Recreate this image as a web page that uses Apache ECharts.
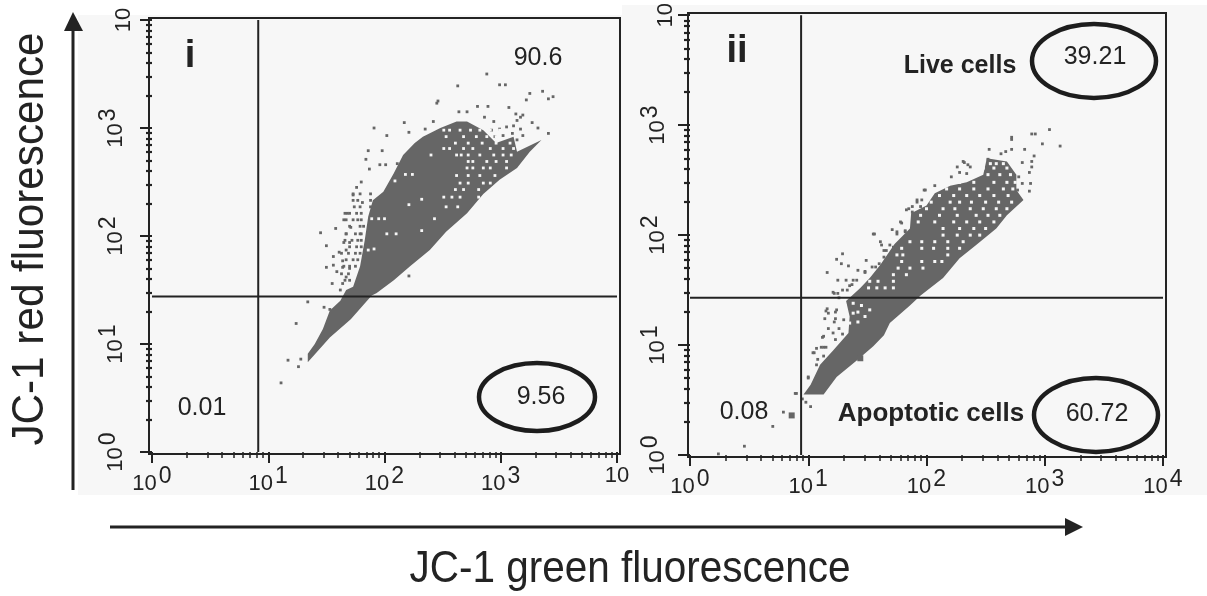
<!DOCTYPE html>
<html><head><meta charset="utf-8">
<style>html,body{margin:0;padding:0;background:#fff}#c{width:1207px;height:596px}</style>
<script src="https://cdn.jsdelivr.net/npm/echarts@6/dist/echarts.min.js"></script>
</head><body><div id="c"></div>
<script>
// All cloud data are [log10 green, log10 red].
// "Rows" are [log10 red, [log10 green, ...]] for events sharing a red level.
const decades = [0, 1, 2, 3, 4];
const minorMultiples = [2, 3, 4, 5, 6, 7, 8, 9];
const gateI = [8.2, 27.5];
const gateII = [8.7, 27];

const cloudI = [[1.34,.83],[1.53,1.06],[1.71,1.23],[1.89,1.45],[1.93,1.47],[2.08,1.59],[2.22,1.72],[2.39,1.87],[2.53,2.04],[2.71,2.21],[2.85,2.39],[2.99,2.52],[3.14,2.63],[3.25,2.78],[3.35,2.89],[3.14,2.78],[3.11,2.92],[2.96,2.86],[2.85,2.98],[2.71,3.06],[2.62,3.06],[2.48,3.00],[2.33,2.92],[2.26,2.86],[2.16,2.75],[2.08,2.58],[1.99,2.41],[1.90,2.33],[1.86,2.18],[1.83,1.96],[1.79,1.72],[1.73,1.53],[1.67,1.50],[1.62,1.40],[1.53,1.31],[1.47,1.14],[1.40,1.00],[1.34,.91]];
const dotsI = [[2.88,3.50],[2.99,3.40],[3.04,3.40],[2.63,3.39],[3.36,3.34],[3.25,3.32],[3.45,3.29],[3.41,3.27],[3.22,3.26],[2.46,3.25],[2.45,3.23],[3.07,3.19],[2.80,3.20],[2.89,3.20],[2.71,3.15],[2.64,3.15],[2.86,3.10],[3.19,3.12],[3.13,3.13],[3.14,3.07],[2.94,3.06],[3.27,3.05],[3.32,3.00],[3.41,2.95],[2.17,3.05],[1.91,3.00],[2.42,3.06],[2.35,2.99],[2.21,2.96],[2.02,2.93],[1.86,2.79],[1.98,2.79],[1.84,2.71],[1.96,2.66],[2.01,2.66],[1.87,2.62],[2.11,2.67],[1.80,2.50],[1.76,2.45],[1.73,2.38],[1.77,2.33],[1.81,2.31],[1.74,2.27],[1.68,2.21],[1.65,2.15],[1.76,2.21],[1.71,2.08],[1.45,2.03],[1.58,2.07],[1.67,2.02],[1.50,1.91],[1.65,1.94],[1.70,1.94],[1.61,1.85],[1.56,1.81],[1.67,1.87],[1.64,1.77],[1.50,1.71],[1.56,1.73],[1.64,1.71],[1.70,1.70],[1.59,1.67],[1.67,1.62],[1.55,1.56],[1.64,1.56],[1.62,1.50],[1.34,1.39],[1.48,1.34],[1.53,1.32],[1.24,1.19],[1.17,.85],[1.28,.86],[1.26,.79],[1.11,.64],[2.77,2.99],[2.83,2.96],[2.92,2.98],[2.99,2.99],[3.05,3.01],[3.11,3.02],[3.17,2.99],[3.19,2.93],[3.10,2.95],[3.02,2.93],[2.95,2.92],[3.14,2.89],[3.07,2.85],[3.17,3.10],[2.21,1.63]];
const fringeRowsI = [[2.39,[1.73,1.79,1.88]],[2.33,[1.73,1.88]],[2.27,[1.79,1.88]],[2.21,[1.66,1.70,1.80]],[2.15,[1.67,1.73,1.77,1.80]],[2.09,[1.70,1.79,1.82]],[2.02,[1.67,1.75,1.79,1.80]],[1.96,[1.66,1.72,1.77,1.80]],[1.90,[1.70,1.76,1.80]],[1.84,[1.63,1.69,1.75,1.79]],[1.78,[1.67,1.73,1.77]],[1.72,[1.65,1.70,1.75]],[1.65,[1.63,1.69]],[1.59,[1.66,1.70]]];
const gapsI = [[2.40,2.75],[2.32,2.34],[2.21,2.29],[2.09,2.51],[2.18,2.57],[2.24,2.57],[1.89,2.16],[1.95,2.16],[2.00,2.16],[2.43,2.16],[2.32,2.05],[2.02,2.02],[2.10,2.02],[1.91,1.88],[1.86,1.87]];
const gapRowsI = [[2.98,[2.51,2.56,2.65,2.74,2.82,2.91,2.99]],[2.92,[2.53,2.68,2.79,2.88,2.96,3.05]],[2.86,[2.61,2.72,2.84,2.96,3.08]],[2.81,[2.51,2.56,2.68,2.76,2.91,3.02,3.11]],[2.75,[2.62,2.66,2.72,2.82,2.94,3.02,3.09]],[2.69,[2.72,2.76,2.88,2.96,3.05]],[2.63,[2.71,2.76,2.85,2.91,3.05]],[2.56,[2.62,2.72,2.82,2.95]],[2.49,[2.65,2.72,2.85,2.91]],[2.43,[2.61,2.68,2.81]],[2.36,[2.51,2.58,2.65,2.81]],[2.27,[2.53,2.63]]];

const cloudII = [[.96,.55],[1.13,.55],[1.24,.71],[1.41,.86],[1.55,.99],[1.64,1.09],[1.69,1.20],[1.86,1.36],[1.95,1.45],[2.14,1.61],[2.28,1.79],[2.42,1.91],[2.59,2.06],[2.68,2.18],[2.82,2.32],[2.76,2.41],[2.76,2.55],[2.68,2.67],[2.51,2.70],[2.48,2.55],[2.34,2.48],[2.20,2.45],[2.07,2.38],[2.00,2.27],[1.87,2.20],[1.86,2.06],[1.73,1.92],[1.61,1.73],[1.52,1.61],[1.44,1.52],[1.32,1.40],[1.35,1.26],[1.34,1.11],[1.21,.95],[1.10,.82],[1.02,.64]];
const dotsII = [[3.04,2.96],[2.89,2.92],[2.92,2.92],[2.72,2.89],[2.72,2.87],[2.98,2.83],[3.13,2.81],[2.53,2.78],[2.72,2.78],[2.83,2.78],[2.67,2.76],[2.63,2.74],[2.91,2.72],[2.52,2.69],[2.89,2.67],[2.81,2.66],[2.89,2.62],[2.87,2.57],[2.78,2.53],[2.81,2.47],[2.88,2.47],[2.87,2.40],[2.77,2.41],[2.32,2.66],[2.26,2.62],[2.35,2.64],[2.28,2.57],[1.98,2.41],[1.92,2.32],[1.85,2.24],[1.88,2.21],[1.95,2.26],[1.78,2.12],[1.71,2.05],[1.55,2.01],[1.75,2.01],[1.82,2.04],[1.62,1.91],[1.66,1.86],[1.72,1.89],[1.29,1.83],[1.24,1.78],[1.28,1.74],[1.34,1.72],[1.42,1.68],[1.48,1.66],[1.16,1.66],[1.32,1.59],[1.35,1.54],[1.60,1.74],[1.54,1.71],[1.29,1.50],[1.22,1.47],[1.26,1.43],[1.38,1.59],[1.15,1.31],[1.23,1.30],[1.14,1.24],[1.22,1.21],[1.26,1.15],[1.29,1.10],[1.12,1.07],[1.05,.93],[1.11,.98],[1.15,.98],[1.08,.87],[1.00,.71],[.89,.56],[.95,.51],[.98,.48],[1.02,.44],[.79,.39],[.70,.26],[.46,.08],[.24,.01],
  [1.83,2.23],[1.88,2.26],[1.92,2.30],[1.99,2.41],[2.07,2.45],[2.21,2.53],[2.31,2.67],[2.37,2.62],[2.34,2.56],[1.96,2.32],[1.75,2.03],[1.79,2.11],[1.82,2.03],[1.56,2.01],[1.61,1.94],[1.64,1.86],[1.69,1.91],[1.64,1.80],[1.71,1.79],[1.49,1.77],[1.57,1.71],[1.48,1.67],
  [1.16,1.33],[1.17,1.29],[1.24,1.32],[1.23,1.24],[1.30,1.23],[1.17,1.15],[1.21,1.11],[1.13,1.08],[1.23,1.05],[1.07,.97],[1.13,.98],[1.04,.93],[1.13,.90],[1.07,.82],[1.00,.70],[.90,.56],[1.25,1.47],[1.21,1.48],[1.33,1.50],[1.37,1.55],[1.41,1.59],[1.25,1.59]];
const gapRowsII = [[2.65,[2.54,2.59,2.65]],[2.61,[2.48,2.57,2.68]],[2.55,[2.42,2.52,2.62,2.71]],[2.48,[2.28,2.40,2.57,2.68,2.75]],[2.42,[2.17,2.28,2.40,2.52,2.65,2.73]],[2.36,[2.11,2.23,2.34,2.45,2.57,2.69]],[2.30,[2.04,2.20,2.28,2.38,2.50,2.61,2.72]],[2.24,[2.00,2.14,2.24,2.37,2.48,2.59,2.68]],[2.18,[1.95,2.11,2.26,2.42,2.52,2.62]],[2.12,[1.93,2.07,2.23,2.34,2.45,2.57]],[2.06,[2.14,2.28,2.40,2.50]],[2.00,[2.14,2.26,2.37,2.45]],[1.94,[1.86,1.96,2.07,2.18,2.31]],[1.88,[1.79,1.96,2.06,2.18,2.28]],[1.82,[1.75,1.80,2.18]],[1.76,[1.79,1.96,2.07,2.13]],[1.70,[1.76,1.86,1.97]],[1.64,[1.72,1.83]],[1.58,[1.52,1.59,1.72]],[1.52,[1.51,1.58,1.65,1.72]],
  [1.38,[1.38]],[1.36,[1.31,1.45]],[1.32,[1.52]],[1.30,[1.42]],[1.29,[1.38]],[1.26,[1.48]],[1.21,[1.42]],[1.20,[1.35]]];
const clumpII = [[.86,.36],[1.44,.88]];

const expandRows = rows => rows.flatMap(r => r[1].map(x => [x, r[0]]));
const toValues = pts => pts.map(p => [Math.pow(10, p[0]), Math.pow(10, p[1])]);
const majorTicks = decades.map(d => Math.pow(10, d));
const minorTicks = [];
decades.slice(0, 4).forEach(d => minorMultiples.forEach(m => minorTicks.push(m * Math.pow(10, d))));

const FONT = '"Liberation Sans", Arial, sans-serif';
const INK = '#232323', DOT = '#666666', PANEL = '#f7f7f7';

function labelFmt(hideTop) {
  return v => {
    const e = Math.round(Math.log10(v));
    return (e === 4 && hideTop) ? '{b|10}' : '{b|10}{s|' + e + '}';
  };
}
const rich = {
  b: {fontFamily: FONT, fontSize: 22, color: INK},
  s: {fontFamily: FONT, fontSize: 23, color: INK, verticalAlign: 'bottom', padding: [0, 0, 15, 2]}
};
function axisPair(dim, grid, hideTop, margin) {
  const isX = dim === 'x';
  const base = {type: 'log', logBase: 10, min: 1, max: 10000, gridIndex: grid, position: isX ? 'bottom' : 'left',
    axisLine: {show: false, onZero: false}, splitLine: {show: false}, minorTick: {show: false}, minorSplitLine: {show: false}};
  return [
    Object.assign({}, base, {
      axisTick: {show: true, length: isX ? 11 : 12, lineStyle: {color: INK, width: 2}},
      axisLabel: {show: true, hideOverlap: false, showMinLabel: true, showMaxLabel: true, margin: margin, rotate: isX ? 0 : 90, color: INK,
        formatter: labelFmt(hideTop), rich: rich}
    }),
    Object.assign({}, base, {
      axisTick: {show: true, length: 6, customValues: minorTicks, lineStyle: {color: INK, width: isX ? 1.5 : 2.2}},
      axisLabel: {show: false}
    })
  ];
}
function cloudSeries(name, pts, xi, yi) {
  const vals = toValues(pts);
  return {
    name: name, type: 'custom', xAxisIndex: xi, yAxisIndex: yi, z: 3, silent: true, data: vals,
    renderItem: (p, api) => p.dataIndex === 0 ? {
      type: 'polygon', shape: {points: vals.map(v => api.coord(v))}, style: {fill: DOT}
    } : null
  };
}
function dotSeries(name, pts, xi, yi, color, size, z) {
  return {name: name, type: 'scatter', xAxisIndex: xi, yAxisIndex: yi, data: toValues(pts), symbol: 'rect', symbolSize: size,
    itemStyle: {color: color, opacity: 1}, z: z, silent: true, animation: false};
}
function gateSeries(name, data, xi, yi) {
  return {name: name, type: 'line', xAxisIndex: xi, yAxisIndex: yi, data: data, symbol: 'none', z: 6, silent: true,
    lineStyle: {color: INK, width: 2}};
}
function txt(x, y, s, size, bold) {
  return {type: 'text', x: x, y: y, z: 20, style: {text: s, fill: INK, font: (bold ? 'bold ' : '') + size + 'px ' + FONT, textAlign: 'center', textVerticalAlign: 'middle'}};
}
function ring(cx, cy, rx, ry) {
  return {type: 'ellipse', z: 20, shape: {cx: cx, cy: cy, rx: rx, ry: ry}, style: {fill: 'none', stroke: '#1d1d1d', lineWidth: 4.5}};
}
function frame(x1, y1, x2, y2) {
  return {type: 'rect', z: 8, shape: {x: x1, y: y1, width: x2 - x1, height: y2 - y1}, style: {fill: 'none', stroke: INK, lineWidth: 2}};
}
function bg(x1, y1, x2, y2) {
  return {type: 'rect', z: -10, shape: {x: x1, y: y1, width: x2 - x1, height: y2 - y1}, style: {fill: PANEL}};
}

const xI = axisPair('x', 0, true, 13), yI = axisPair('y', 0, true, 17);
const xII = axisPair('x', 1, false, 13), yII = axisPair('y', 1, true, 13);

const chart = echarts.init(document.getElementById('c'), null, {renderer: 'canvas', width: 1207, height: 596});
chart.setOption({
  animation: false,
  backgroundColor: '#ffffff',
  grid: [
    {left: 152, top: 20, width: 465, height: 432},
    {left: 690, top: 15, width: 473, height: 440}
  ],
  xAxis: [...xI, ...xII],
  yAxis: [...yI, ...yII],
  series: [
    cloudSeries('cloud i', cloudI, 0, 0),
    dotSeries('events i', dotsI.concat(expandRows(fringeRowsI)), 0, 0, DOT, 2.8, 4),
    dotSeries('gaps i', gapsI.concat(expandRows(gapRowsI)), 0, 0, PANEL, 2.8, 5),
    gateSeries('gate i x', [[gateI[0], 1], [gateI[0], 10000]], 0, 0),
    gateSeries('gate i y', [[1, gateI[1]], [10000, gateI[1]]], 0, 0),
    cloudSeries('cloud ii', cloudII, 2, 2),
    dotSeries('events ii', dotsII, 2, 2, DOT, 2.8, 4),
    dotSeries('gaps ii', expandRows(gapRowsII), 2, 2, PANEL, 3, 5),
    dotSeries('clump ii', clumpII, 2, 2, DOT, 6, 6),
    gateSeries('gate ii x', [[gateII[0], 1], [gateII[0], 10000]], 2, 2),
    gateSeries('gate ii y', [[1, gateII[1]], [10000, gateII[1]]], 2, 2)
  ],
  graphic: {elements: [
    bg(78, 15, 625, 495), bg(622, 5, 1207, 495),
    frame(149, 18, 620, 454), frame(688, 13, 1166, 457),
    txt(190, 57, 'i', 38, true), txt(737, 52, 'ii', 38, true),
    txt(538, 58, '90.6', 25), txt(202, 408, '0.01', 25), txt(541, 397, '9.56', 25),
    txt(744, 412, '0.08', 25), txt(1095, 57, '39.21', 25), txt(1097, 414, '60.72', 25),
    txt(960, 66, 'Live cells', 25, true), txt(931, 414, 'Apoptotic cells', 26, true),
    ring(537, 397, 58, 34), ring(1094, 61, 62, 37), ring(1096, 415, 62, 37),
    {type: 'line', z: 20, shape: {x1: 73, y1: 490, x2: 73, y2: 28}, style: {stroke: INK, lineWidth: 3}},
    {type: 'polygon', z: 20, shape: {points: [[73, 12], [64, 31], [83, 31]]}, style: {fill: INK}},
    {type: 'line', z: 20, shape: {x1: 110, y1: 527, x2: 1068, y2: 527}, style: {stroke: INK, lineWidth: 3}},
    {type: 'polygon', z: 20, shape: {points: [[1083, 527], [1065, 518], [1065, 536]]}, style: {fill: INK}},
    {type: 'text', z: 20, x: 31, y: 239, rotation: Math.PI / 2, scaleX: 0.96, style: {text: 'JC-1 red fluorescence', fill: INK, font: '44px ' + FONT, textAlign: 'center', textVerticalAlign: 'middle'}},
    {type: 'text', z: 20, x: 630, y: 570, scaleX: 0.92, style: {text: 'JC-1 green fluorescence', fill: INK, font: '44px ' + FONT, textAlign: 'center', textVerticalAlign: 'middle'}}
  ]}
});
</script></body></html>
